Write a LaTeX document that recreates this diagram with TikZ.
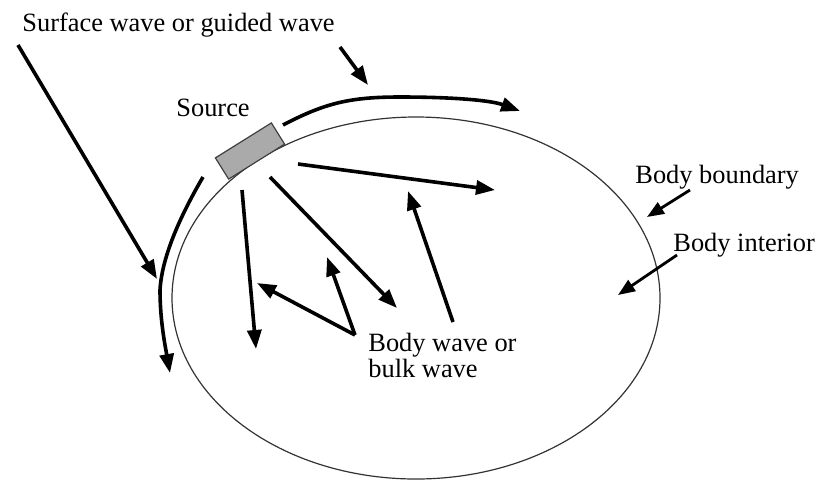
\documentclass[tikz,border=0pt]{standalone}
\usepackage{fontspec}
\setmainfont{Liberation Serif}
\usetikzlibrary{arrows.meta, positioning, shapes.geometric}
\definecolor{srcgray}{RGB}{170,170,170}

\begin{document}
\begin{tikzpicture}[
  x=0.5pt, y=-0.5pt,
  wave/.style={-{Triangle[length=9.5pt, width=7pt]}, line width=1.8pt},
  pointer/.style={-{Triangle[length=8.5pt, width=6.5pt]}, line width=1.4pt},
  txt/.style={font=\fontsize{13.2}{13}\selectfont, inner sep=0pt, anchor=west, align=left}
]
  \useasboundingbox (0,0) rectangle (817,483);

  % Body and source
  \node[ellipse, draw=black!80, line width=0.6pt, minimum width=244pt, minimum height=181pt, inner sep=0pt] (body) at (416,298) {};
  \node[draw=black!75, line width=0.6pt, fill=srcgray, rotate=32, minimum width=33pt, minimum height=12.5pt, inner sep=0pt] (source) at (250,151) {};

  % Labels
  \node[txt] (surf)  at (22,25)   {Surface wave or guided wave};
  \node[txt] (srcl)  at (176,108) {Source};
  \node[txt] (bound) at (635,177) {Body boundary};
  \node[txt] (inter) at (673,245) {Body interior};
  \node[txt, anchor=north west] (bulk) at (368,333) {Body wave or\\bulk wave};

  % Surface (guided) waves
  \coordinate (sw0) at (18,45);
  \coordinate (sw1) at (157,279);
  \coordinate (sp0) at (340,47);
  \coordinate (sp1) at (368,85);
  \coordinate (ga0) at (283,125);
  \coordinate (ga1) at (520,111);
  \coordinate (gb0) at (203,177);
  \coordinate (gb1) at (170,373);

  \draw[wave] (sw0) -- (sw1);
  \draw[wave] (sp0) -- (sp1);
  \draw[wave] (ga0) .. controls (325,103) and (350,97) .. (400,97)
                    .. controls (450,97) and (490,100) .. (ga1);
  \draw[wave] (gb0) .. controls (182,213) and (162,255) .. (160,290)
                    .. controls (160,320) and (165,345) .. (gb1);

  % Body waves
  \coordinate (b1s) at (298,164);
  \coordinate (b1e) at (495,190);
  \coordinate (b2s) at (453,322);
  \coordinate (b2e) at (408,191);
  \coordinate (b3s) at (270,177);
  \coordinate (b3e) at (397,308);
  \coordinate (b4s) at (242,190);
  \coordinate (b4e) at (256,349);
  \coordinate (apex) at (355,335);
  \coordinate (b5e) at (257,283);
  \coordinate (b6e) at (327,257);

  \draw[wave] (b1s) -- (b1e);
  \draw[wave] (b2s) -- (b2e);
  \draw[wave] (b3s) -- (b3e);
  \draw[wave] (b4s) -- (b4e);
  \draw[wave] (apex) -- (b5e);
  \draw[wave] (apex) -- (b6e);

  % Pointers to the boundary and interior
  \coordinate (pb0) at (690,190);
  \coordinate (pb1) at (647,217);
  \coordinate (pi0) at (677,255);
  \coordinate (pi1) at (618,295);
  \draw[pointer] (pb0) -- (pb1);
  \draw[pointer] (pi0) -- (pi1);
\end{tikzpicture}
\end{document}
